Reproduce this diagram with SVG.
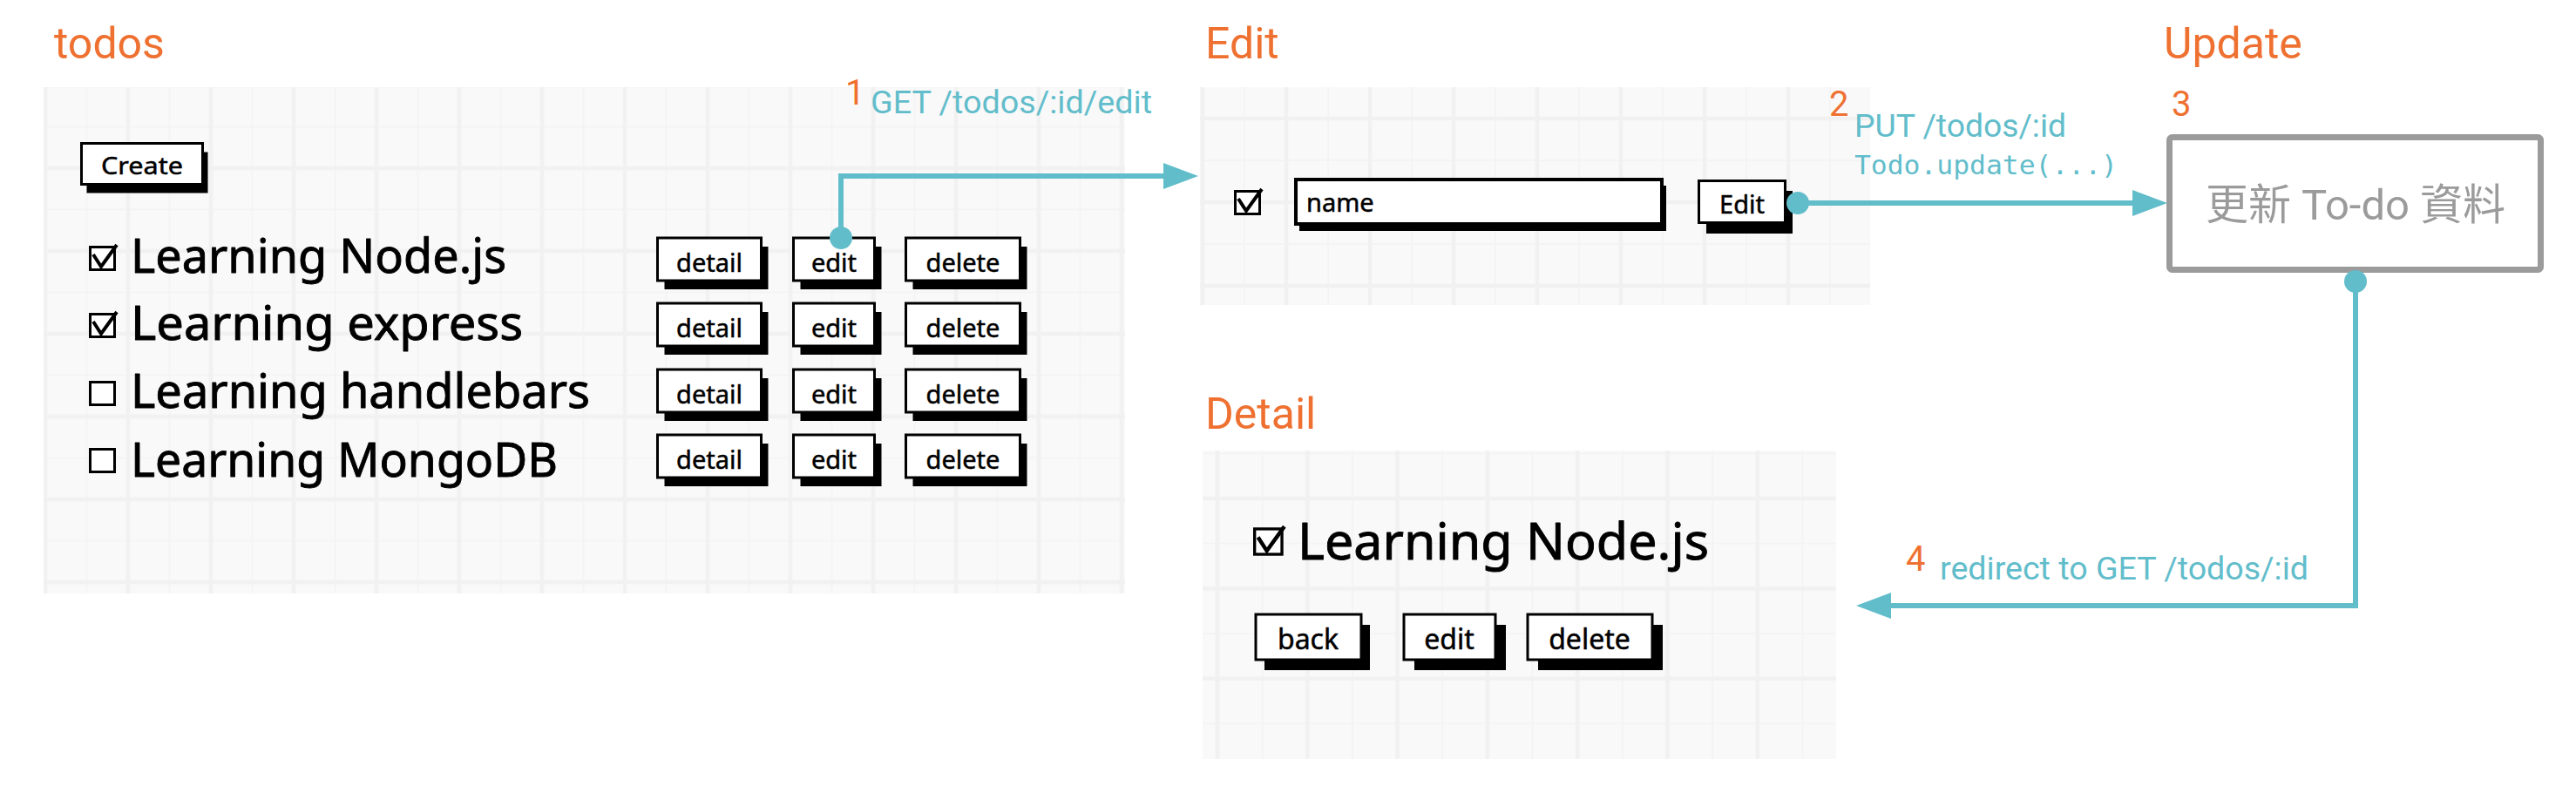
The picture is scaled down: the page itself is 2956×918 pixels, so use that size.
<svg xmlns="http://www.w3.org/2000/svg" xmlns:xlink="http://www.w3.org/1999/xlink" width="2956" height="918" viewBox="0 0 2956 918">
<style>
.title{font-family:Roboto,"Liberation Sans",sans-serif;font-size:50px;fill:#EF7131}
.num{font-family:Roboto,"Liberation Sans",sans-serif;font-size:40px;fill:#EF7131}
.lbl{font-family:Roboto,"Liberation Sans",sans-serif;font-size:36px;fill:#62BDCB}
.code{font-family:"DejaVu Sans Mono","Liberation Mono",monospace;font-size:31px;fill:#62BDCB}
.mk{font-family:"Noto Sans","Liberation Sans",sans-serif;fill:#000;stroke:#000;stroke-width:0.5px;stroke-linejoin:round}
.row{font-size:54px;stroke-width:0.9px}
.bt{font-size:29px;text-anchor:middle}
.bt2{font-size:32px;text-anchor:middle}
.sh{fill:#000}
.face{fill:#fff;stroke:#000;stroke-width:3}
.conn{fill:none;stroke:#62BDCB;stroke-width:6}
.upd{fill:#fff;stroke:#9B9B9B;stroke-width:7}
.updt{font-family:Roboto,"Noto Sans CJK TC",sans-serif;font-size:49px;fill:#9B9B9B;text-anchor:middle}
</style>
<defs>
<pattern id="gridTodos" patternUnits="userSpaceOnUse" x="99.5" y="145.5" width="95" height="95">
<rect width="95" height="95" fill="#F9F9F9"/>
<path d="M0,0V95M95,0V95M0,0H95M0,95H95" stroke="#F4F4F4" stroke-width="2"/>
<path d="M47.5,0V95M0,47.5H95" stroke="#F1F1F1" stroke-width="4.5"/>
</pattern>
<pattern id="gridEdit" patternUnits="userSpaceOnUse" x="1428" y="88" width="96" height="96">
<rect width="96" height="96" fill="#F9F9F9"/>
<path d="M0,0V96M96,0V96M0,0H96M0,96H96" stroke="#F4F4F4" stroke-width="2"/>
<path d="M48,0V96M0,48H96" stroke="#F1F1F1" stroke-width="4.5"/>
</pattern>
<pattern id="gridDetail" patternUnits="userSpaceOnUse" x="1345.4" y="520.4" width="103.3" height="103.3">
<rect width="103.3" height="103.3" fill="#F9F9F9"/>
<path d="M0,0V103.3M103.3,0V103.3M0,0H103.3M0,103.3H103.3" stroke="#F4F4F4" stroke-width="2"/>
<path d="M51.65,0V103.3M0,51.65H103.3" stroke="#F1F1F1" stroke-width="4.5"/>
</pattern>
<g id="cbOff"><rect x="1.5" y="3.5" width="28" height="26" fill="#fff" stroke="#000" stroke-width="3"/></g>
<g id="cbOn"><rect x="1.5" y="3.5" width="28" height="26" fill="#fff" stroke="#000" stroke-width="3"/><path d="M5,12 L14,26 L32,1" fill="none" stroke="#000" stroke-width="4"/></g>
<marker id="arrow" markerUnits="userSpaceOnUse" markerWidth="40" markerHeight="30" viewBox="0 0 40 30" refX="0" refY="15" orient="auto">
<path d="M0,0 L40,15 L0,30 Z" fill="#62BDCB"/>
</marker>
<marker id="dot" markerUnits="userSpaceOnUse" markerWidth="28" markerHeight="28" viewBox="0 0 28 28" refX="14" refY="14" orient="auto">
<circle cx="14" cy="14" r="13" fill="#62BDCB"/>
</marker>
</defs>

<rect width="2956" height="918" fill="#fff"/>

<g id="todos">
<text class="title" x="62" y="67">todos</text>
<rect x="50" y="100" width="1241" height="581" fill="url(#gridTodos)"/>
<g id="btn-create">
<rect class="sh" x="99.5" y="174.5" width="139" height="47"/>
<rect class="face" x="93.5" y="164.5" width="139" height="47"/>
<text class="mk" x="163" y="200" font-size="28" text-anchor="middle" textLength="94" lengthAdjust="spacingAndGlyphs">Create</text>
</g>
<g id="row1">
<use xlink:href="#cbOn" x="102" y="280"/>
<text class="mk row" x="150" y="313" textLength="431" lengthAdjust="spacingAndGlyphs">Learning Node.js</text>
<rect class="sh" x="762.5" y="283" width="119" height="49"/><rect class="face" x="754.5" y="273" width="119" height="49"/>
<text class="mk bt" x="814" y="312">detail</text>
<rect class="sh" x="918.5" y="283" width="93" height="49"/><rect class="face" x="910.5" y="273" width="93" height="49"/>
<text class="mk bt" x="957" y="312">edit</text>
<rect class="sh" x="1047.5" y="283" width="131" height="49"/><rect class="face" x="1039.5" y="273" width="131" height="49"/>
<text class="mk bt" x="1105" y="312">delete</text>
</g>
<g id="row2">
<use xlink:href="#cbOn" x="102" y="357"/>
<text class="mk row" x="150" y="390" textLength="450" lengthAdjust="spacingAndGlyphs">Learning express</text>
<rect class="sh" x="762.5" y="358" width="119" height="49"/><rect class="face" x="754.5" y="348" width="119" height="49"/>
<text class="mk bt" x="814" y="387">detail</text>
<rect class="sh" x="918.5" y="358" width="93" height="49"/><rect class="face" x="910.5" y="348" width="93" height="49"/>
<text class="mk bt" x="957" y="387">edit</text>
<rect class="sh" x="1047.5" y="358" width="131" height="49"/><rect class="face" x="1039.5" y="348" width="131" height="49"/>
<text class="mk bt" x="1105" y="387">delete</text>
</g>
<g id="row3">
<use xlink:href="#cbOff" x="102" y="435"/>
<text class="mk row" x="150" y="468" textLength="527" lengthAdjust="spacingAndGlyphs">Learning handlebars</text>
<rect class="sh" x="762.5" y="434" width="119" height="49"/><rect class="face" x="754.5" y="424" width="119" height="49"/>
<text class="mk bt" x="814" y="463">detail</text>
<rect class="sh" x="918.5" y="434" width="93" height="49"/><rect class="face" x="910.5" y="424" width="93" height="49"/>
<text class="mk bt" x="957" y="463">edit</text>
<rect class="sh" x="1047.5" y="434" width="131" height="49"/><rect class="face" x="1039.5" y="424" width="131" height="49"/>
<text class="mk bt" x="1105" y="463">delete</text>
</g>
<g id="row4">
<use xlink:href="#cbOff" x="102" y="512"/>
<text class="mk row" x="150" y="547" textLength="490" lengthAdjust="spacingAndGlyphs">Learning MongoDB</text>
<rect class="sh" x="762.5" y="509" width="119" height="49"/><rect class="face" x="754.5" y="499" width="119" height="49"/>
<text class="mk bt" x="814" y="538">detail</text>
<rect class="sh" x="918.5" y="509" width="93" height="49"/><rect class="face" x="910.5" y="499" width="93" height="49"/>
<text class="mk bt" x="957" y="538">edit</text>
<rect class="sh" x="1047.5" y="509" width="131" height="49"/><rect class="face" x="1039.5" y="499" width="131" height="49"/>
<text class="mk bt" x="1105" y="538">delete</text>
</g>
</g>

<g id="edit">
<text class="title" x="1383" y="67">Edit</text>
<rect x="1377" y="100" width="769" height="250" fill="url(#gridEdit)"/>
<use xlink:href="#cbOn" x="1416" y="216"/>
<g id="input-name">
<rect class="sh" x="1491" y="213" width="421" height="52"/>
<rect fill="#fff" stroke="#000" stroke-width="4" x="1487" y="206" width="420" height="51"/>
<text class="mk" x="1499" y="243" font-size="29">name</text>
</g>
<g id="btn-edit">
<rect class="sh" x="1958" y="219" width="99" height="49"/>
<rect class="face" x="1949.5" y="207.5" width="99" height="48"/>
<text class="mk bt" x="1999" y="245">Edit</text>
</g>
</g>

<g id="update">
<text class="title" x="2483" y="67">Update</text>
<rect class="upd" x="2489.5" y="157.5" width="426" height="152" rx="3"/>
<text class="updt" x="2703" y="252">更新 To-do 資料</text>
</g>

<g id="detail">
<text class="title" x="1383" y="492">Detail</text>
<rect x="1380" y="517" width="727" height="354" fill="url(#gridDetail)"/>
<use xlink:href="#cbOn" transform="translate(1438,603) scale(1.12)"/>
<text class="mk row" x="1489" y="642" style="font-size:59px" textLength="472" lengthAdjust="spacingAndGlyphs">Learning Node.js</text>
<g id="btn-back">
<rect class="sh" x="1451" y="717" width="121" height="52"/><rect class="face" x="1441" y="705" width="121" height="52"/>
<text class="mk bt2" x="1501" y="745">back</text>
</g>
<g id="btn-edit2">
<rect class="sh" x="1623" y="717" width="105" height="52"/><rect class="face" x="1611" y="705" width="105" height="52"/>
<text class="mk bt2" x="1663" y="745">edit</text>
</g>
<g id="btn-delete2">
<rect class="sh" x="1765" y="717" width="143" height="52"/><rect class="face" x="1753" y="705" width="143" height="52"/>
<text class="mk bt2" x="1824" y="745">delete</text>
</g>
</g>

<g id="connectors">
<path class="conn" d="M965,273 V202 H1335" marker-start="url(#dot)" marker-end="url(#arrow)"/>
<path class="conn" d="M2063,233 H2447" marker-start="url(#dot)" marker-end="url(#arrow)"/>
<path class="conn" d="M2703,323 V695 H2170" marker-start="url(#dot)" marker-end="url(#arrow)"/>
<text class="num" x="970" y="120">1</text>
<text class="lbl" x="999" y="130" textLength="323" lengthAdjust="spacingAndGlyphs">GET /todos/:id/edit</text>
<text class="num" x="2099" y="133">2</text>
<text class="lbl" x="2128" y="157" textLength="243" lengthAdjust="spacingAndGlyphs">PUT /todos/:id</text>
<text class="code" x="2128" y="200" textLength="302" lengthAdjust="spacingAndGlyphs">Todo.update(...)</text>
<text class="num" x="2492" y="133">3</text>
<text class="num" x="2187" y="655">4</text>
<text class="lbl" x="2226" y="665" textLength="423" lengthAdjust="spacingAndGlyphs">redirect to GET /todos/:id</text>
</g>
</svg>
